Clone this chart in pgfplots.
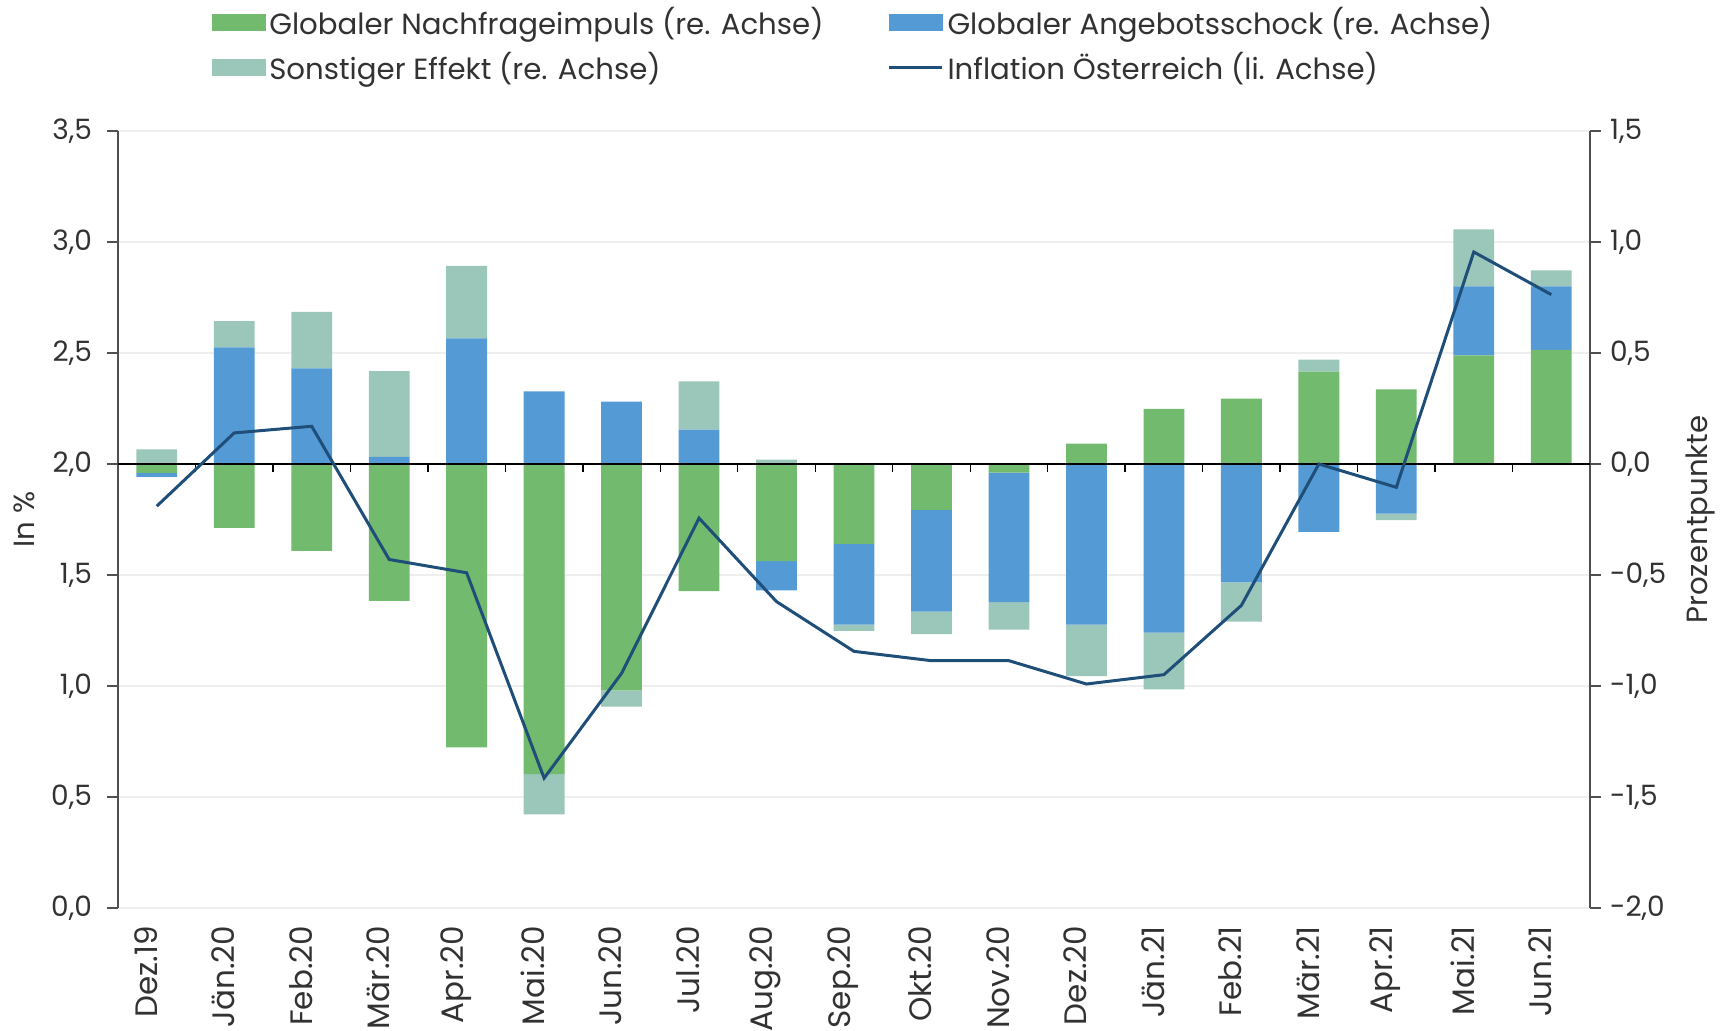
\documentclass[border=0pt]{standalone}
\usepackage{fontspec}
\setmainfont{Poppins}
\usepackage{pgfplots}
\pgfplotsset{compat=1.18}
\usepackage{pgfplotstable}

\definecolor{cgreen}{RGB}{114,186,110}
\definecolor{cblue}{RGB}{84,155,213}
\definecolor{cteal}{RGB}{155,199,187}
\definecolor{cline}{RGB}{31,78,121}
\definecolor{cgrid}{RGB}{238,238,238}
\definecolor{caxis}{RGB}{80,80,80}
\definecolor{ctext}{RGB}{50,50,50}

\pgfplotstableread{
x g b t infl
0  -0.040 -0.018  0.066 1.81
1  -0.288  0.525  0.119 2.14
2  -0.391  0.431  0.254 2.17
3  -0.617  0.032  0.386 1.57
4  -1.276  0.566  0.327 1.51
5  -1.397  0.327 -0.181 0.585
6  -1.020  0.281 -0.073 1.057
7  -0.573  0.155  0.217 1.756
8  -0.438 -0.131  0.020 1.38
9  -0.360 -0.364 -0.028 1.156
10 -0.207 -0.458 -0.101 1.114
11 -0.039 -0.583 -0.124 1.114
12  0.092 -0.724 -0.231 1.009
13  0.248 -0.760 -0.255 1.051
14  0.294 -0.533 -0.177 1.363
15  0.416 -0.306  0.054 2.00
16  0.336 -0.224 -0.029 1.895
17  0.489  0.311  0.257 2.955
18  0.514  0.286  0.072 2.763
}\data

\newcommand{\tfont}{\fontsize{14}{17}\selectfont}
\newcommand{\lfont}{\fontsize{14.6}{17}\selectfont}
\newcommand{\xfont}{\fontsize{15.5}{18}\selectfont}

\pgfplotsset{
  base/.style={width=736pt, height=388.5pt, scale only axis, at={(0,0)}, anchor=south west,
    xmin=-0.5, xmax=18.5},
  numfmt/.style={/pgf/number format/.cd, fixed, fixed zerofill, precision=1, use comma, 1000 sep={}, assume math mode=true},
}

\begin{document}
\begin{tikzpicture}[font=\tfont, text=ctext]
\path[use as bounding box] (-59pt,-61pt) rectangle (805pt,454pt);

% background axis: grid, left y axis, x labels, legend
\begin{axis}[base, ymin=0, ymax=3.5,
  ytick={0,0.5,1,1.5,2,2.5,3,3.5},
  ymajorgrids, grid style={line width=1pt, color=cgrid},
  axis x line*=bottom, axis y line*=left,
  x axis line style={draw=none},
  y axis line style={-, line width=0.8pt, color=caxis},
  xtick={0,...,18},
  xticklabels={Dez.19,Jän.20,Feb.20,Mär.20,Apr.20,Mai.20,Jun.20,Jul.20,Aug.20,Sep.20,Okt.20,Nov.20,Dez.20,Jän.21,Feb.21,Mär.21,Apr.21,Mai.21,Jun.21},
  xtick style={draw=none},
  tick align=outside, major tick length=5.5pt,
  ytick style={line width=0.8pt, color=caxis},
  tick label style={font=\tfont, text=ctext},
  xticklabel style={rotate=90, anchor=east, yshift=5.5pt, font=\xfont},
  yticklabel style={xshift=-4pt, numfmt},
  ylabel={In \%},
  every axis y label/.style={at={(axis description cs:0,0.5)}, xshift=-47pt, rotate=90, anchor=center, font=\lfont, text=ctext},
  legend columns=2, legend cell align=left,
  legend style={draw=none, fill=none, at={(axis description cs:0.5,1)}, anchor=south, yshift=20pt,
    font=\lfont, text=ctext, row sep=3.5pt,
    /tikz/every even column/.append style={column sep=30pt},
    nodes={inner xsep=2pt, inner ysep=2pt}},
]
\addplot[draw=none, forget plot] coordinates {(0,2)};
\addlegendimage{legend image code/.code={\fill[cgreen] (0pt,-4pt) rectangle (26.5pt,4pt);}}
\addlegendentry{Globaler Nachfrageimpuls (re. Achse)}
\addlegendimage{legend image code/.code={\fill[cblue] (0pt,-4pt) rectangle (26.5pt,4pt);}}
\addlegendentry{Globaler Angebotsschock (re. Achse)}
\addlegendimage{legend image code/.code={\fill[cteal] (0pt,-4pt) rectangle (26.5pt,4pt);}}
\addlegendentry{Sonstiger Effekt (re. Achse)}
\addlegendimage{legend image code/.code={\draw[cline, line width=1.5pt] (0pt,0pt) -- (26.5pt,0pt);}}
\addlegendentry{Inflation Österreich (li. Achse)}
\end{axis}

% positive bars, right y axis
\begin{axis}[base, ymin=-2, ymax=1.5,
  ybar stacked, bar width=20.4pt,
  hide x axis, axis y line*=right,
  ytick={-2,-1.5,-1,-0.5,0,0.5,1,1.5},
  yticklabels={{-2,0},{-1,5},{-1,0},{-0,5},{0,0},{0,5},{1,0},{1,5}},
  y axis line style={-, line width=0.8pt, color=caxis},
  tick align=outside, major tick length=5.5pt,
  ytick style={line width=0.8pt, color=caxis},
  tick label style={font=\tfont, text=ctext},
  yticklabel style={xshift=1pt},
  ylabel={Prozentpunkte},
  every axis y label/.style={at={(axis description cs:1,0.5)}, xshift=55pt, rotate=90, anchor=center, font=\lfont, text=ctext},
]
\addplot[fill=cgreen, draw=none] table[x=x, y expr={max(\thisrow{g},0)}] {\data};
\addplot[fill=cblue, draw=none] table[x=x, y expr={max(\thisrow{b},0)}] {\data};
\addplot[fill=cteal, draw=none] table[x=x, y expr={max(\thisrow{t},0)}] {\data};
\end{axis}

% negative bars
\begin{axis}[base, ymin=-2, ymax=1.5,
  ybar stacked, bar width=20.4pt,
  hide axis,
]
\addplot[fill=cgreen, draw=none] table[x=x, y expr={min(\thisrow{g},0)}] {\data};
\addplot[fill=cblue, draw=none] table[x=x, y expr={min(\thisrow{b},0)}] {\data};
\addplot[fill=cteal, draw=none] table[x=x, y expr={min(\thisrow{t},0)}] {\data};
\end{axis}

% zero line with ticks
\begin{axis}[base, ymin=-2, ymax=1.5,
  axis x line*=middle, hide y axis,
  x axis line style={-, line width=0.8pt, color=black},
  xtick={0.5,1.5,...,17.5}, xticklabels={},
  tick align=center, major tick length=4pt,
  xtick style={yshift=-2pt, line width=0.7pt, color=black},
]
\addplot[draw=none, forget plot] coordinates {(0,0)};
\end{axis}

% inflation line, left scale
\begin{axis}[base, ymin=0, ymax=3.5, hide axis]
\addplot[color=cline, line width=1.5pt, mark=none] table[x=x, y=infl] {\data};
\end{axis}
\end{tikzpicture}
\end{document}
